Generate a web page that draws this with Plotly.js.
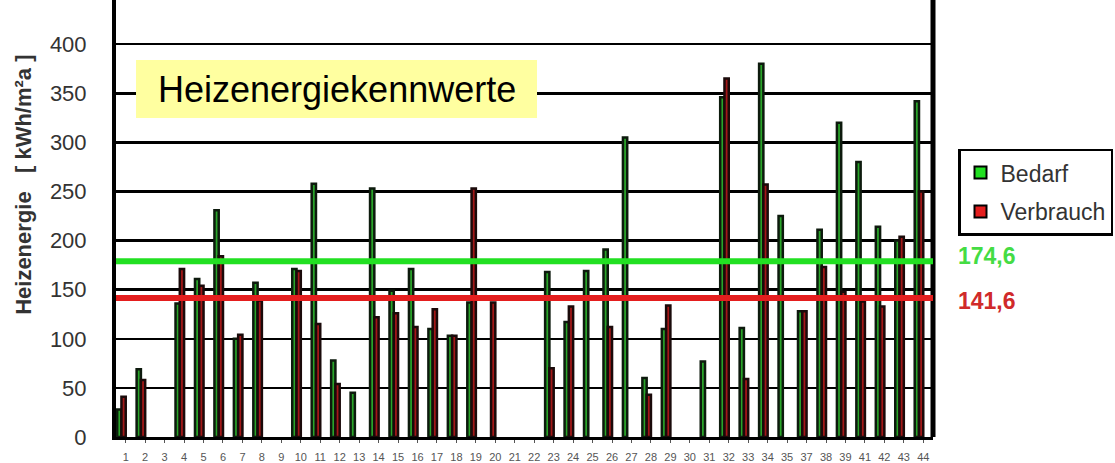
<!DOCTYPE html>
<html>
<head>
<meta charset="utf-8">
<script src="https://cdn.plot.ly/plotly-3.0.1.min.js"></script>
<style>html,body{margin:0;padding:0;background:#fff}#chart{width:1115px;height:463px}</style>
</head>
<body>
<div id="chart"></div>
<script>
const categories = ['1','2','3','4','5','6','7','8','9','10','11','12','13','14','15','16','17','18','19','20','21','22','23','24','25','26','27','28','29','30','31','32','33','34','35','37','38','39','41','42','43','44'];
const bedarf =     [28, 69, null, 136, 161, 231, 100, 157, null, 171, 258, 78, 45, 253, 149, 171, 110, 103, 137, null, null, null, 168, 117, 169, 191, 305, 60, 110, null, 77, 346, 111, 380, 225, 128, 211, 320, 280, 214, 200, 342];
const verbrauch =  [41, 58, null, 171, 154, 184, 104, 139, null, 169, 115, 54, null, 122, 126, 112, 130, 103, 253, 137, null, null, 70, 133, null, 112, null, 43, 134, null, null, 365, 59, 257, null, 128, 173, 148, 138, 133, 204, 250];
const seriesNames = ['Bedarf', 'Verbrauch'];
const meanLabels = ['174,6', '141,6'];
const meanLines = [179, 141.6];
const chartTitle = 'Heizenergiekennwerte';
const yTitle = 'Heizenergie&nbsp;&nbsp;&nbsp;[ kWh/m²a ]';

const FONT = 'Arial, Liberation Sans, sans-serif';
const darkGreen = '#2aa52a', darkRed = '#a31818';
const brightGreen = '#22e022', brightRed = '#e41e1e';

const traces = [
  {type:'bar', x:categories, y:bedarf, name:seriesNames[0], showlegend:false,
   marker:{color:darkGreen, line:{color:'#0d1a0d', width:2.5}}},
  {type:'bar', x:categories, y:verbrauch, name:seriesNames[1], showlegend:false,
   marker:{color:darkRed, line:{color:'#1a0a0a', width:2.5}}},
  {type:'bar', x:[categories[0]], y:[null], name:seriesNames[0], showlegend:true, legendgroup:'a',
   marker:{color:brightGreen, line:{color:'#000', width:2}}},
  {type:'bar', x:[categories[0]], y:[null], name:seriesNames[1], showlegend:true, legendgroup:'b',
   marker:{color:brightRed, line:{color:'#000', width:2}}}
];

const layout = {
  width:1115, height:463,
  margin:{l:116, r:182, t:0, b:26},
  paper_bgcolor:'#fff', plot_bgcolor:'#fff',
  barmode:'group', bargap:0.12, bargroupgap:0,
  showlegend:true,
  legend:{x:1.0306, xanchor:'left', y:0.66, yanchor:'top', bordercolor:'#000', borderwidth:2.5,
          bgcolor:'#fff', font:{family:FONT, size:23, color:'#333'},
          tracegroupgap:6, itemwidth:30},
  xaxis:{type:'category', categoryorder:'array', categoryarray:categories,
         showline:true, linecolor:'#000', linewidth:3, ticks:'outside', ticklen:3, tickcolor:'#555',
         tickfont:{family:FONT, size:11, color:'#555'},
         ticklabelstandoff:5, showgrid:false, zeroline:false, fixedrange:true},
  yaxis:{range:[0, 445], tickvals:[0,50,100,150,200,250,300,350,400],
         showline:true, linecolor:'#000', linewidth:4, ticks:'',
         showgrid:true, gridcolor:'#000', gridwidth:2.5, zeroline:false,
         tickfont:{family:FONT, size:22, color:'#333'},
         ticklabelstandoff:21},
  shapes:[
    {type:'line', xref:'paper', yref:'paper', x0:1, x1:1, y0:0, y1:1, line:{color:'#000', width:5}},
    {type:'line', xref:'paper', yref:'y', x0:0, x1:1, y0:meanLines[0], y1:meanLines[0], line:{color:brightGreen, width:6}},
    {type:'line', xref:'paper', yref:'y', x0:0, x1:1, y0:meanLines[1], y1:meanLines[1], line:{color:brightRed, width:6}},
    {type:'rect', xref:'paper', yref:'paper', x0:0.0245, x1:0.5153, y0:0.730, y1:0.8627, layer:'above',
     fillcolor:'#ffffa0', line:{width:0}}
  ],
  annotations:[
    {xref:'paper', yref:'paper', x:0.2705, y:0.796, xanchor:'center', yanchor:'middle', showarrow:false,
     text:chartTitle, font:{family:FONT, size:36, color:'#000'}},
    {xref:'paper', yref:'paper', x:-0.1126, y:0.577, xanchor:'center', yanchor:'middle', showarrow:false,
     textangle:-90, text:yTitle, font:{family:FONT, size:22, color:'#333', weight:'bold'}},
    {xref:'paper', yref:'y', x:1.028, y:meanLines[0] + 5, xanchor:'left', yanchor:'middle', showarrow:false,
     text:meanLabels[0], font:{family:FONT, size:23, color:'#44dc44', weight:'bold'}},
    {xref:'paper', yref:'y', x:1.028, y:meanLines[1] - 3, xanchor:'left', yanchor:'middle', showarrow:false,
     text:meanLabels[1], font:{family:FONT, size:23, color:'#d02a2a', weight:'bold'}}
  ]
};

Plotly.newPlot('chart', traces, layout, {displayModeBar:false, staticPlot:true});
</script>
</body>
</html>
